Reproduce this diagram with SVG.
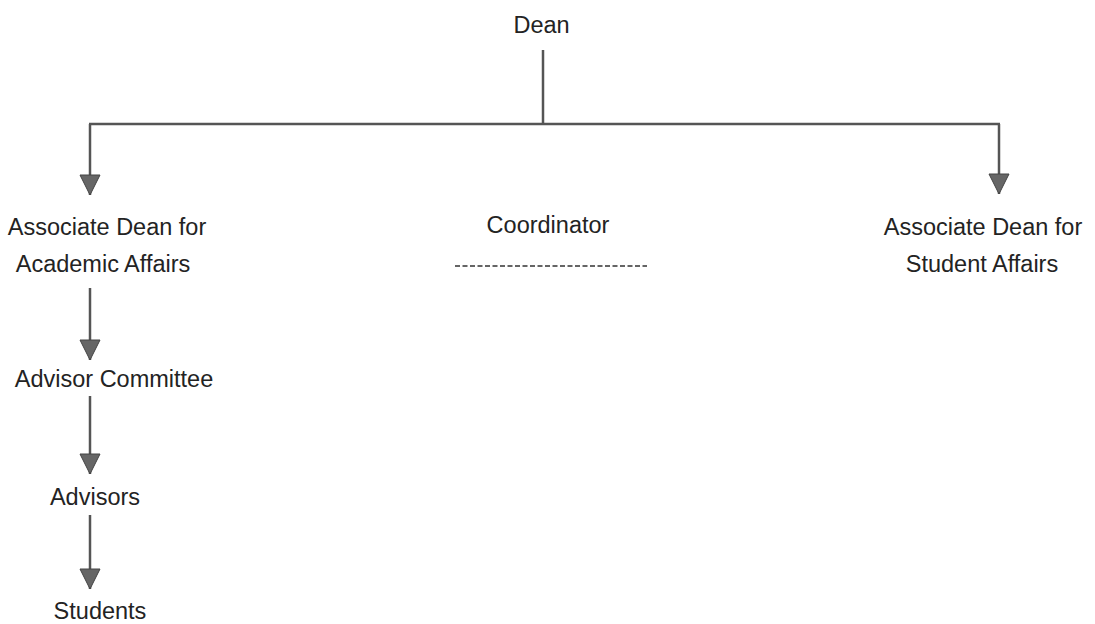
<svg xmlns="http://www.w3.org/2000/svg" width="1095" height="624" viewBox="0 0 1095 624">
<style>
.t{font-family:"Liberation Sans",Arial,sans-serif;font-size:23.5px;fill:#232323;text-anchor:middle}
.c{stroke:#555;stroke-width:2.5;fill:none}
</style>
<defs>
<marker id="ah" markerUnits="userSpaceOnUse" markerWidth="22" markerHeight="22" viewBox="0 0 22 22" refX="21" refY="11" orient="auto">
<path d="M1,1 L21,11 L1,21 Z" fill="#666" stroke="#444" stroke-width="1"/>
</marker>
</defs>
<rect width="1095" height="624" fill="#fff"/>
<g id="connectors">
<path class="c" d="M543,50 V124"/>
<path class="c" d="M89,124 H1000"/>
<path class="c" d="M90,124 V195" marker-end="url(#ah)"/>
<path class="c" d="M999,124 V194" marker-end="url(#ah)"/>
<path class="c" d="M90,288 V360" marker-end="url(#ah)"/>
<path class="c" d="M90,396 V474" marker-end="url(#ah)"/>
<path class="c" d="M90,515 V589" marker-end="url(#ah)"/>
</g>
<g id="dean"><text class="t" x="541.5" y="33">Dean</text></g>
<g id="assoc-academic"><text class="t" x="107" y="235">Associate Dean for</text><text class="t" x="103" y="272">Academic Affairs</text></g>
<g id="coordinator"><text class="t" x="548" y="233">Coordinator</text><line x1="455" y1="266" x2="647" y2="266" stroke="#333" stroke-width="1.5" stroke-dasharray="5,2.5"/></g>
<g id="assoc-student"><text class="t" x="983" y="235">Associate Dean for</text><text class="t" x="982" y="272">Student Affairs</text></g>
<g id="advisor-committee"><text class="t" x="114" y="387">Advisor Committee</text></g>
<g id="advisors"><text class="t" x="95" y="505">Advisors</text></g>
<g id="students"><text class="t" x="100" y="619">Students</text></g>
</svg>
